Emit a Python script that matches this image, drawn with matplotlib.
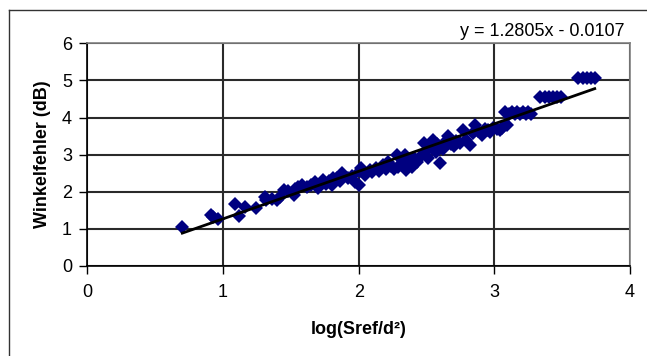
import matplotlib
matplotlib.use("Agg")
import matplotlib.pyplot as plt
from matplotlib.patches import Rectangle
import numpy as np

plt.rcParams['font.family'] = ['Liberation Sans', 'DejaVu Sans']

x_vals = [0.70, 0.91, 0.93, 0.96, 1.09, 1.12, 1.16, 1.24, 1.31, 1.32, 1.36, 1.40, 1.42, 1.45,
          1.48, 1.52, 1.53, 1.55, 1.58, 1.62, 1.65, 1.68, 1.70, 1.72, 1.74, 1.76, 1.78, 1.80,
          1.81, 1.84, 1.86, 1.88, 1.92, 1.95, 1.97, 2.00, 2.01, 2.02, 2.05, 2.08, 2.10, 2.13,
          2.15, 2.18, 2.20, 2.22, 2.24, 2.26, 2.28, 2.29, 2.31, 2.33, 2.34, 2.35, 2.37, 2.38,
          2.39, 2.41, 2.43, 2.45, 2.48, 2.49, 2.51, 2.53, 2.55, 2.57, 2.58, 2.60, 2.62, 2.64,
          2.66, 2.68, 2.70, 2.72, 2.75, 2.77, 2.79, 2.82, 2.84, 2.86, 2.88, 2.91, 2.93, 2.95,
          2.97, 2.99, 3.02, 3.04, 3.06, 3.08, 3.09, 3.11, 3.13, 3.15, 3.17, 3.19, 3.21, 3.23,
          3.25, 3.27, 3.34, 3.37, 3.40, 3.43, 3.46, 3.49, 3.62, 3.65, 3.68, 3.71, 3.74]
y_vals = [1.06, 1.37, 1.33, 1.26, 1.67, 1.36, 1.58, 1.57, 1.87, 1.78, 1.80, 1.78, 1.87, 2.05,
          2.02, 1.91, 2.08, 2.14, 2.18, 2.12, 2.18, 2.27, 2.10, 2.20, 2.32, 2.22, 2.28, 2.18,
          2.37, 2.36, 2.30, 2.50, 2.37, 2.42, 2.27, 2.18, 2.55, 2.64, 2.45, 2.59, 2.52, 2.64,
          2.55, 2.72, 2.62, 2.81, 2.70, 2.62, 2.99, 2.68, 2.75, 2.86, 2.99, 2.59, 2.75, 2.86,
          2.68, 2.90, 2.80, 2.95, 3.31, 3.08, 2.92, 3.20, 3.40, 3.08, 3.30, 2.77, 3.15, 3.35,
          3.49, 3.28, 3.22, 3.36, 3.31, 3.67, 3.40, 3.26, 3.58, 3.80, 3.65, 3.53, 3.70, 3.67,
          3.60, 3.71, 3.68, 3.67, 3.72, 4.16, 3.80, 4.10, 4.16, 4.10, 4.16, 4.10, 4.16, 4.10,
          4.16, 4.10, 4.56, 4.56, 4.56, 4.56, 4.56, 4.56, 5.06, 5.06, 5.06, 5.06, 5.06]

slope = 1.2805
intercept = -0.0107
x_ticks = [0, 1, 2, 3, 4]
y_ticks = [0, 1, 2, 3, 4, 5, 6]
equation = "y = 1.2805x - 0.0107"
x_label = "log(Sref/d²)"
y_label = "Winkelfehler (dB)"

W, H = 647, 356
fig = plt.figure(figsize=(W / 100, H / 100), dpi=100)
ax = fig.add_axes([87.3 / W, 1 - 266 / H, (630 - 87.3) / W, (266 - 43.3) / H])

# outer chart border (left and top edges visible, the rest runs off the canvas)
fig.add_artist(plt.Line2D([9 / W, 9 / W], [0, 1 - 10 / H], transform=fig.transFigure,
                          color='#333333', linewidth=1.0))
fig.add_artist(plt.Line2D([9 / W, 1], [1 - 10 / H, 1 - 10 / H], transform=fig.transFigure,
                          color='#333333', linewidth=1.0))

ax.set_xlim(0, 4)
ax.set_ylim(0, 6)
ax.set_xticks(x_ticks)
ax.set_yticks(y_ticks)

for side in ['top', 'right']:
    ax.spines[side].set_color('#808080')
    ax.spines[side].set_linewidth(1.2)
for side in ['left', 'bottom']:
    ax.spines[side].set_color('black')
    ax.spines[side].set_linewidth(1.2)

ax.tick_params(axis='both', direction='out', length=6, width=1, labelsize=13)
ax.tick_params(axis='x', pad=7)
ax.tick_params(axis='y', pad=5)
ax.grid(True, color='#2a2a2a', linewidth=1.5)
ax.set_axisbelow(True)

ax.plot(x_vals, y_vals, linestyle='none', marker='D', markersize=7.5,
        color='#000080', markeredgewidth=0, zorder=3)

xs = np.array([min(x_vals), max(x_vals)])
ax.plot(xs, slope * xs + intercept, color='black', linewidth=2.0, zorder=4)

ax.set_xlabel(x_label, fontsize=13, fontweight='bold', labelpad=14)
ax.set_ylabel(y_label, fontsize=13, fontweight='bold', labelpad=8)

fig.text(625 / W, 1 - 32 / H, equation, ha='right', va='center', fontsize=13)

fig.savefig("out.png", dpi=100)
